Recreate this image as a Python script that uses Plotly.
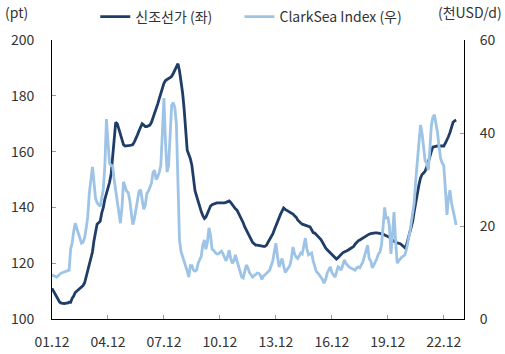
import pandas as pd
import plotly.graph_objects as go

# Monthly dates, Dec 2001 .. Aug 2023
dates = pd.date_range("2001-12-01", "2023-08-01", freq="MS").strftime("%Y-%m-%d").tolist()

# 신조선가 (left axis, pt)
newbuilding = [
    111,
    110, 109, 108, 107, 106, 105.7, 105.5, 105.5, 105.7, 105.7, 106, 106,            # 2002
    107.5, 108.3, 109.5, 110, 110.5, 111, 111.5, 112, 113, 115, 117, 119.5,          # 2003
    122, 124, 128, 131, 134, 134.5, 135, 138, 140, 143, 145, 147,                    # 2004
    149, 152, 157, 165, 170.5, 170, 168, 166.5, 164, 162.5, 162, 162,                # 2005
    162, 162.2, 162.3, 162.5, 163.5, 164.5, 166, 167.5, 169, 170, 169.5, 169,        # 2006
    169, 169.3, 169.5, 170.5, 172, 173.5, 175, 177, 179, 181, 182.5, 184.5,          # 2007
    185.5, 186, 186.2, 186.5, 187, 188, 189, 190.5, 191.5, 189, 185, 181,            # 2008
    175, 168, 160.5, 159, 157.5, 155, 150, 146, 144, 142, 140, 138.5,                # 2009
    137, 136, 136.5, 138, 139.5, 140.5, 141, 141.3, 141.5, 141.6, 141.6, 141.6,      # 2010
    141.6, 141.5, 141.6, 141.8, 142, 142.3, 141.8, 141, 140, 139.5, 139, 138,        # 2011
    137, 136, 134.5, 133, 132, 131, 129.5, 128.5, 127.5, 127, 126.5, 126.5,          # 2012
    126.3, 126.2, 126, 126, 126, 126.5, 127.5, 128.5, 129.5, 130.5, 132, 133.5,      # 2013
    135, 136.2, 137.5, 138.7, 139.8, 139.3, 139, 138.6, 138.4, 138, 137.6, 137,      # 2014
    136.5, 135.5, 134.8, 134.4, 134, 133.8, 133.6, 133.4, 133.2, 133, 132, 131,      # 2015
    130.8, 130.3, 129.8, 129.2, 128.5, 127.5, 126.3, 125.5, 124.8, 124.2, 123.6, 123,  # 2016
    122.5, 122, 121.5, 122, 122.7, 123.3, 123.7, 124, 124.2, 124.5, 124.9, 125.3,    # 2017
    125.5, 126, 126.8, 127.5, 128, 128.3, 128.7, 129, 129.4, 129.8, 130.1, 130.4,    # 2018
    130.6, 130.8, 130.8, 130.9, 130.9, 130.8, 130.8, 130.6, 130.4, 130.1, 129.8, 129.6,  # 2019
    129.4, 129, 128.3, 127.8, 127.5, 127.3, 127.2, 127, 126.5, 126, 125.5, 126.5,    # 2020
    128.5, 130.5, 132.5, 135, 138.5, 142, 145, 148, 150.5, 151.8, 152.3, 153,        # 2021
    154.5, 156, 158, 160, 161.6, 161.8, 162, 162, 162, 162, 162, 162,                # 2022
    163, 164, 165.3, 166.8, 168.5, 170.5, 171, 171.3,                                # 2023
]

# ClarkSea Index (right axis, 천USD/d)
clarksea = [
    9.5,
    9.3, 9.1, 9.0, 9.3, 9.7, 9.9, 10.0, 10.1, 10.2, 10.3, 10.5, 15,                  # 2002
    16.5, 19, 20.6, 19.5, 18.5, 17, 16.3, 16.5, 17.5, 19.5, 22, 27,                  # 2003
    30, 32.7, 29.5, 26, 25, 24.5, 24.2, 26, 28, 33, 43, 38,                          # 2004
    33.5, 33, 33, 30, 27.5, 25.5, 22.5, 20.6, 24, 29.5, 28.5, 27.5,                  # 2005
    27.2, 25.5, 23, 20.3, 21.5, 23.5, 25.5, 27.5, 27.8, 26, 23.6, 24.5,              # 2006
    27, 27.5, 28.5, 29.2, 31.5, 32, 30, 30.5, 31.6, 33, 40, 47.5,                    # 2007
    38, 31.6, 33, 39.5, 46, 46.5, 45.5, 42, 30, 17, 14.5, 13.5,                      # 2008
    12.5, 11.5, 10.3, 9, 11.5, 11.5, 10.5, 10.3, 10.5, 12, 13, 13.5,                 # 2009
    16, 17, 15, 16.5, 19.6, 18, 15, 14.8, 14.3, 14, 14, 14.4,                        # 2010
    14.6, 14, 13.3, 12.5, 13.5, 14.8, 13, 12, 12.5, 13.8, 12.5, 11.5,                # 2011
    10.5, 9, 8.8, 10, 11.6, 11, 10, 9.5, 9, 9.3, 9.7, 9.9,                           # 2012
    9.8, 9.4, 8.5, 9.2, 9.5, 9.8, 10, 10.5, 11.5, 12.5, 14.5, 16.3,                  # 2013
    13.5, 11.2, 12, 13, 11.5, 10, 10.5, 11, 11.5, 13, 15.5, 14,                      # 2014
    13.3, 13, 13.6, 14.2, 14, 15.5, 17.4, 15, 13.8, 14, 14.2, 12.5,                  # 2015
    11.5, 10.2, 9.9, 9.5, 9, 8.5, 7.7, 8.5, 9.9, 10.5, 11.2, 10,                     # 2016
    9.5, 9, 10, 11.2, 11, 10.5, 11.5, 12.7, 12, 11.5, 11.2, 11,                      # 2017
    10.8, 10.5, 10.5, 11, 11.2, 11, 11.5, 12.3, 13.5, 15, 15.9, 13,                  # 2018
    12.5, 11, 11.5, 12.3, 13, 14, 14.4, 16, 20, 24, 21.5, 22,                        # 2019
    20, 14, 18, 23, 17, 12, 12.5, 13, 13.3, 13.5, 13.8, 15,                          # 2020
    16.6, 18.5, 20.5, 22.5, 25, 29.9, 34, 37, 41.7, 40, 36, 34,                      # 2021
    33.5, 32, 36, 41.5, 43.4, 43.9, 42, 40, 37, 34.5, 33.5, 33,                      # 2022
    28, 22.4, 26, 27.7, 25, 23.5, 22, 20.2,                                          # 2023
]

tick_dates = ["2001-12-01", "2004-12-01", "2007-12-01", "2010-12-01",
              "2013-12-01", "2016-12-01", "2019-12-01", "2022-12-01"]
tick_labels = ["01.12", "04.12", "07.12", "10.12", "13.12", "16.12", "19.12", "22.12"]
left_ticks = [100, 120, 140, 160, 180, 200]
right_ticks = [0, 20, 40, 60]

FONT = "Noto Sans CJK KR, Noto Sans, sans-serif"
DARK = "#1f3d66"
LIGHT = "#9dc3e6"
TXT = "#333333"
FS = 14

fig = go.Figure()
fig.add_trace(go.Scatter(x=dates, y=clarksea, name="ClarkSea Index (우)", yaxis="y2",
                         mode="lines", line=dict(color=LIGHT, width=2.8), legend="legend2"))
fig.add_trace(go.Scatter(x=dates, y=newbuilding, name="신조선가 (좌)", yaxis="y",
                         mode="lines", line=dict(color=DARK, width=2.8), legend="legend"))

fig.update_layout(
    width=505, height=354,
    margin=dict(l=52, r=41, t=40, b=35, autoexpand=False),
    paper_bgcolor="white", plot_bgcolor="white",
    font=dict(family=FONT, size=FS, color=TXT),
    showlegend=True,
    legend=dict(orientation="h", x=0.105, xanchor="left", y=1.082, yanchor="middle",
                font=dict(size=FS, color=TXT), bgcolor="rgba(0,0,0,0)"),
    legend2=dict(orientation="h", x=0.455, xanchor="left", y=1.082, yanchor="middle",
                 font=dict(size=FS, color=TXT), bgcolor="rgba(0,0,0,0)"),
    xaxis=dict(type="date", range=["2001-12-01", "2024-01-01"],
               tickvals=tick_dates, ticktext=tick_labels,
               ticks="inside", ticklen=4, tickcolor="#999999",
               showline=True, linecolor="black", linewidth=1,
               showgrid=False, zeroline=False, ticklabelstandoff=10,
               tickfont=dict(size=FS, color=TXT)),
    yaxis=dict(range=[100, 200], tickvals=left_ticks,
               ticks="inside", ticklen=4, tickcolor="#999999",
               showline=True, linecolor="black", linewidth=1,
               showgrid=False, zeroline=False, ticklabelstandoff=14,
               tickfont=dict(size=FS, color=TXT)),
    yaxis2=dict(range=[0, 60], tickvals=right_ticks, overlaying="y", side="right",
                ticks="inside", ticklen=4, tickcolor="#999999",
                showline=True, linecolor="black", linewidth=1,
                showgrid=False, zeroline=False, ticklabelstandoff=12,
                tickfont=dict(size=FS, color=TXT)),
    annotations=[
        dict(text="(pt)", xref="paper", yref="paper", x=-0.12, y=1.1, xanchor="left",
             yanchor="middle", showarrow=False, font=dict(size=FS, color=TXT)),
        dict(text="(천USD/d)", xref="paper", yref="paper", x=1.097, y=1.1, xanchor="right",
             yanchor="middle", showarrow=False, font=dict(size=FS, color=TXT)),
    ],
)

fig.write_html("out.html")
